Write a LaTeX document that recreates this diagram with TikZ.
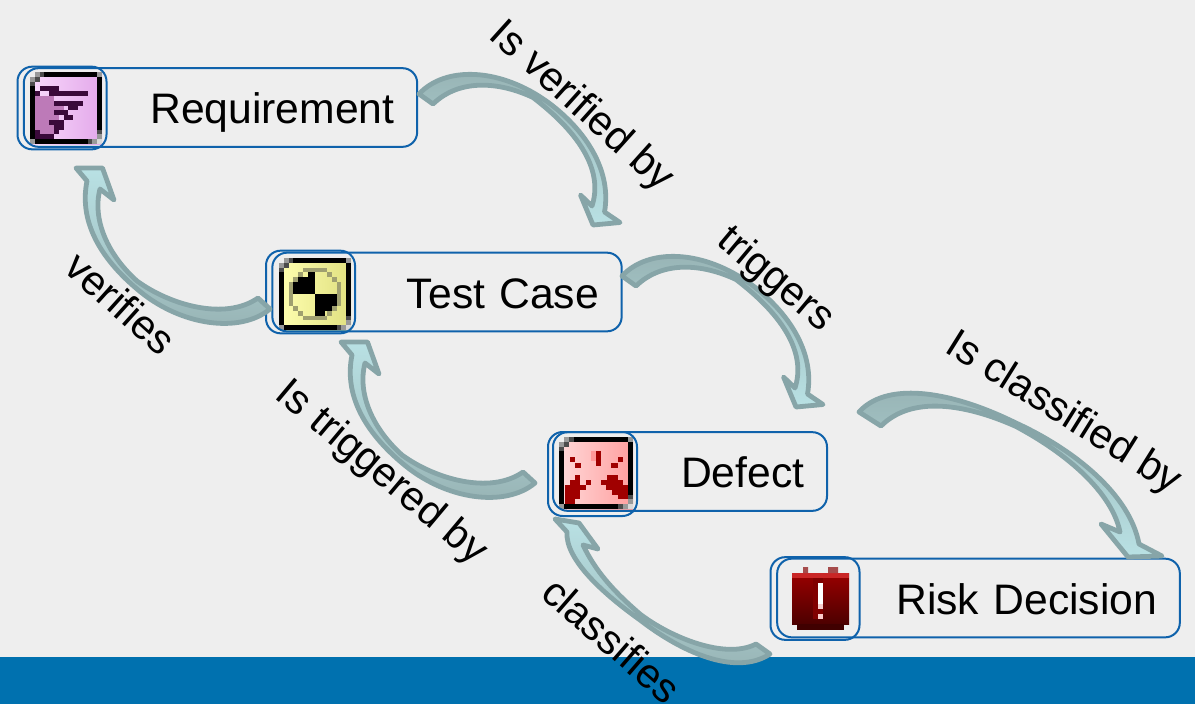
\documentclass[tikz,border=0pt]{standalone}
\usepackage{fontspec}
\setmainfont{Liberation Sans}
\usetikzlibrary{shadings}

\definecolor{pagegray}{HTML}{EEEEEE}
\definecolor{bandblue}{HTML}{0071AF}
\definecolor{boxblue}{HTML}{0F62AB}
\definecolor{arrowline}{HTML}{87A5A8}
\definecolor{arrowdark}{HTML}{97B3B4}
\definecolor{arrowlight}{HTML}{B9E1E4}
\definecolor{reqleft}{HTML}{F9DAFC}
\definecolor{reqright}{HTML}{E3A8EA}
\definecolor{reqdark}{HTML}{3A0A3A}
\definecolor{reqmid}{HTML}{BD7AB8}
\definecolor{testleft}{HTML}{FFFFB0}
\definecolor{testright}{HTML}{E0E080}
\definecolor{testring}{HTML}{A0A070}
\definecolor{defred}{HTML}{A00000}

\newcommand{\pixels}[2]{\foreach \cx/\cy/\cw/\ch in {#2} \fill[#1] (\cx,\cy) rectangle +(\cw,\ch);}
\newcommand{\iconframe}[2]{%
    \shade[left color=#1,right color=#2] (0,0) rectangle (15,15);
    \draw[line width=3.6pt] (.5,.5) rectangle (14.5,14.5);
    \pixels{pagegray}{0/0/1/1}
    \pixels{black!40}{1/0/1/1, 0/1/1/1, 14/0/1/1, 0/14/1/1, 13/14/1/1, 14/13/1/1}
    \pixels{black!15}{14/14/1/1}
    \pixels{black!70}{2/0/1/1, 1/1/1/1, 0/2/1/1, 12/14/1/1, 14/12/1/1}
}
% the two long arrows that come back with the same shape
\newcommand{\downcurve}{(419,94) .. controls (445,66) and (500,67) .. (549,103) .. controls (585,130) and (612,170) .. (604.5,212)
        -- (620,222.5) -- (593,225) -- (580.5,195) -- (592,206)
        .. controls (603,172) and (582,135) .. (533,97.5) .. controls (500,82) and (460,78) .. (433,104) -- cycle}
\newcommand{\upcurve}{(270,309) .. controls (240,334) and (180,326) .. (137,289) .. controls (105,262) and (78,225) .. (87,181)
        -- (76,168) -- (102.5,168) -- (114,200) -- (100,189)
        .. controls (92,220) and (108,255) .. (137,281) .. controls (170,305) and (225,321) .. (258,298) -- cycle}

\tikzset{
    taskbox/.style={draw=boxblue,line width=1.5pt,rounded corners=11pt,text width=#1,inner xsep=17pt,
        minimum height=59pt,align=right,text height=31pt,text depth=7pt,font=\fontsize{32}{38}\selectfont},
    iconbox/.style={draw=boxblue,line width=1.5pt,rounded corners=11pt,minimum width=66.75pt,minimum height=62pt},
    linklabel/.style={font=\fontsize{31}{37}\selectfont,rotate=#1},
    flowarrow/.style={draw=arrowline,line width=3.6pt,line join=round},
    flowdown/.style={flowarrow,top color=arrowdark,bottom color=arrowlight},
    flowup/.style={flowarrow,top color=arrowlight,bottom color=arrowdark},
    pixelgrid/.style={shift={(#1)},x=3.6pt,y=-3.6pt}
}

\begin{document}
\begin{tikzpicture}[x=.75pt,y=-.75pt]
    \useasboundingbox (0,0) rectangle (1195,704);
    \fill[pagegray] (0,0) rectangle (1195,704);
    \fill[bandblue] (0,657) rectangle (1195,704);

    % icons
    \begin{scope}[pixelgrid={30,72}]
        \iconframe{reqleft}{reqright}
        \pixels{reqmid}{1/5/4/8, 5/7/2/2, 4/9/2/3}
        \pixels{reqdark}{2/3/4/1, 1/4/1/1, 4/4/8/1, 5/6/6/1, 8/7/2/1, 5/8/3/1, 7/9/2/1, 4/10/3/1, 5/11/2/1, 1/12/1/1, 5/12/1/1, 1/13/4/1}
    \end{scope}
    \begin{scope}[pixelgrid={279,258}]
        \iconframe{testleft}{testright}
        \pixels{testring}{5/2/5/1, 4/3/1/1, 10/3/1/1, 3/4/1/1, 11/4/1/1, 2/5/1/5, 12/5/1/5, 3/10/1/1, 11/10/1/1, 4/11/1/1, 10/11/1/1, 5/12/5/1}
        \pixels{black}{6/3/1.5/1, 4/4/3.5/1, 3/5/4.5/2.5, 7.5/7.5/4.5/2.5, 7.5/10/3.5/1, 7.5/11/2/1}
    \end{scope}
    \begin{scope}[pixelgrid={559,437},x=3.7pt]
        \iconframe{red!15}{red!38}
        \pixels{red!40}{6.5/3/1/2}
        \pixels{defred}{7.5/3/1/3, 2.2/4.2/1/1, 3.2/5.4/1.3/1, 11.9/4.2/1/1, 10.6/5.4/1.3/1}
        \pixels{defred}{3.2/8/1.1/1, 2.2/9/2.1/1, 5.4/9/1/1, 1.2/10/4.2/1, 1.2/11/3/2, 1.2/13/2/1}
        \pixels{defred}{9.7/8/2.2/1, 8.6/9/4.3/1, 9.5/10/4.4/1, 10.7/11/3.2/1, 11.9/12/2/1}
    \end{scope}
    \shade[top color=red!60!black,bottom color=red!30!black] (792,573) rectangle (849,624);
    \fill[red!75!black!85!white] (792,573) rectangle (849,578);
    \fill[black!75!red] (797,624) rectangle (844,630);
    \fill[red!50!black!70!white] (803,567) rectangle (808,573) (828,567) rectangle (838,573);
    \fill[red!50!black] (813,578) rectangle (823,619);
    \fill[white] (818,583) rectangle (823,604);
    \fill[black!20!red!20!white] (818,604) rectangle (823,609);
    \fill[black!10!red!20!white] (818,614) rectangle (823,619);

    % boxes
    \node[iconbox] (reqicon) at (62,108) {};
    \node[taskbox=261pt] (req) at (220.5,107.5) {Requirement};
    \node[iconbox] (testicon) at (310.5,292) {};
    \node[taskbox=228pt] (test) at (447,292) {Test Case};
    \node[iconbox,minimum height=63pt] (deficon) at (592.5,474) {};
    \node[taskbox=171.5pt] (def) at (690,471.5) {Defect};
    \node[iconbox] (riskicon) at (815,598.5) {};
    \node[taskbox=268pt] (risk) at (978.5,598) {Risk Decision};

    % arrows
    \draw[flowdown] \downcurve;
    \draw[flowdown,shift={(203,182)}] \downcurve;
    \draw[flowdown] (859,412) .. controls (885,383) and (945,388) .. (1016,423) .. controls (1075,450) and (1130,495) .. (1139,544)
        -- (1162,556) -- (1128,557) -- (1101,524) -- (1120,532)
        .. controls (1113,497) and (1075,458) .. (1016,426.5) .. controls (975,408) and (915,392) .. (881,426) -- cycle;
    \draw[flowup] \upcurve;
    \draw[flowup,shift={(265,174)}] \upcurve;
    \draw[flowup] (770,654) .. controls (735,677) and (680,651) .. (640,620) .. controls (605,595) and (565,560) .. (567,532)
        -- (555,519) -- (579,523) -- (598,549) -- (583,545)
        .. controls (595,570) and (612,590) .. (640,614) .. controls (670,637) and (725,660) .. (756,644) -- cycle;

    % labels
    \node[linklabel=-42] (verifiedby) at (581,107) {Is verified by};
    \node[linklabel=-42] (verifies) at (121,303) {verifies};
    \node[linklabel=-40] (triggers) at (775,280) {triggers};
    \node[linklabel=-40] (triggeredby) at (381,473) {Is triggered by};
    \node[linklabel=-32] (classifiedby) at (1063,414) {Is classified by};
    \node[linklabel=-41] (classifies) at (612,640) {classifies};
\end{tikzpicture}
\end{document}
